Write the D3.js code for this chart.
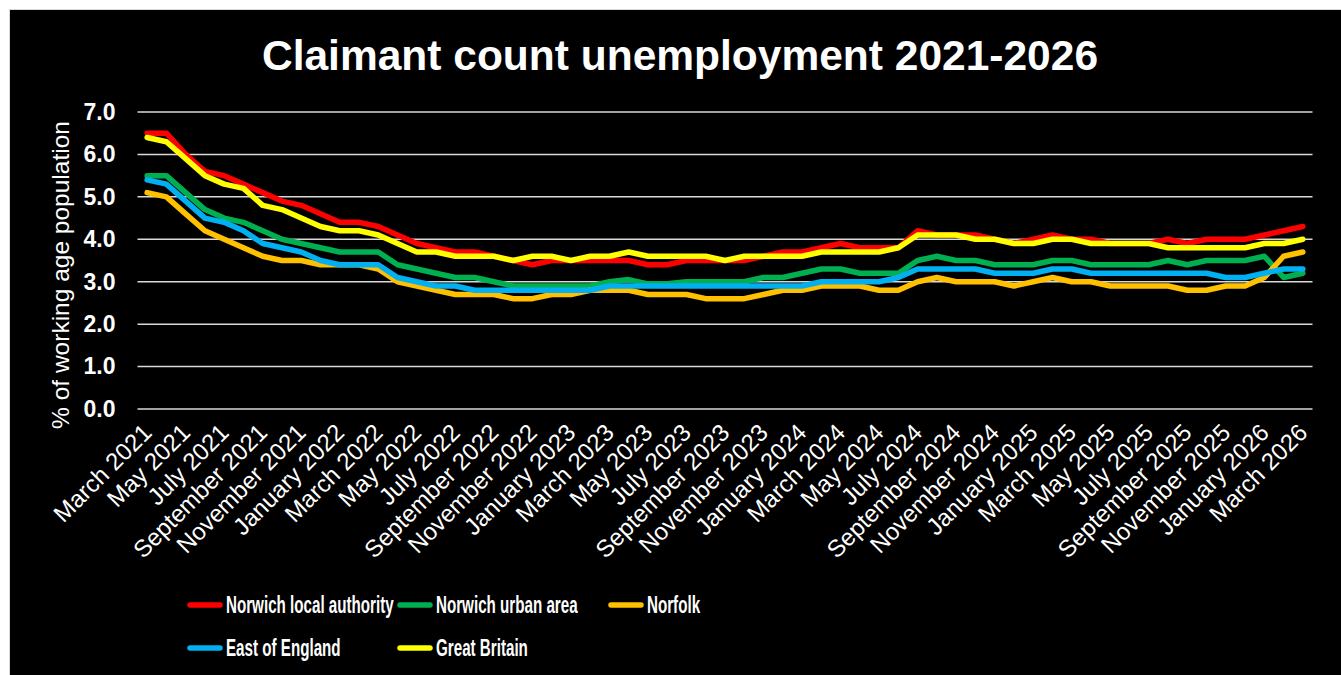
<!DOCTYPE html>
<html>
<head>
<meta charset="utf-8">
<script src="https://cdn.jsdelivr.net/npm/d3@7"></script>
<style>
  html, body { margin: 0; padding: 0; background: #fff; }
  svg { display: block; font-family: 'Liberation Sans', Arial, sans-serif; }
  .grid line { stroke: #d9d9d9; stroke-width: 1.5; }
  .y.axis text { fill: #fff; font-size: 23px; font-weight: bold; }
  .x.axis text { fill: #fff; font-size: 24px; }
  .line { fill: none; stroke-width: 5.5; stroke-linejoin: round; stroke-linecap: round; }
</style>
</head>
<body>
<div id="chart"></div>
<script>
const months = [
  'March 2021', 'April 2021', 'May 2021', 'June 2021', 'July 2021', 'August 2021',
  'September 2021', 'October 2021', 'November 2021', 'December 2021',
  'January 2022', 'February 2022', 'March 2022', 'April 2022', 'May 2022', 'June 2022',
  'July 2022', 'August 2022', 'September 2022', 'October 2022', 'November 2022', 'December 2022',
  'January 2023', 'February 2023', 'March 2023', 'April 2023', 'May 2023', 'June 2023',
  'July 2023', 'August 2023', 'September 2023', 'October 2023', 'November 2023', 'December 2023',
  'January 2024', 'February 2024', 'March 2024', 'April 2024', 'May 2024', 'June 2024',
  'July 2024', 'August 2024', 'September 2024', 'October 2024', 'November 2024', 'December 2024',
  'January 2025', 'February 2025', 'March 2025', 'April 2025', 'May 2025', 'June 2025',
  'July 2025', 'August 2025', 'September 2025', 'October 2025', 'November 2025', 'December 2025',
  'January 2026', 'February 2026', 'March 2026'
];

const norwichLA = [
  6.5, 6.5, 6.0, 5.6, 5.5, 5.3, 5.1, 4.9, 4.8, 4.6,
  4.4, 4.4, 4.3, 4.1, 3.9, 3.8, 3.7, 3.7, 3.6, 3.5,
  3.4, 3.5, 3.5, 3.5, 3.5, 3.5, 3.4, 3.4, 3.5, 3.5,
  3.5, 3.5, 3.6, 3.7, 3.7, 3.8, 3.9, 3.8, 3.8, 3.8,
  4.2, 4.1, 4.1, 4.1, 4.0, 3.9, 4.0, 4.1, 4.0, 4.0,
  3.9, 3.9, 3.9, 4.0, 3.9, 4.0, 4.0, 4.0, 4.1, 4.2,
  4.3
];
const norwichUrban = [
  5.5, 5.5, 5.1, 4.7, 4.5, 4.4, 4.2, 4.0, 3.9, 3.8,
  3.7, 3.7, 3.7, 3.4, 3.3, 3.2, 3.1, 3.1, 3.0, 2.9,
  2.9, 2.9, 2.9, 2.9, 3.0, 3.05, 2.95, 2.95, 3.0, 3.0,
  3.0, 3.0, 3.1, 3.1, 3.2, 3.3, 3.3, 3.2, 3.2, 3.2,
  3.5, 3.6, 3.5, 3.5, 3.4, 3.4, 3.4, 3.5, 3.5, 3.4,
  3.4, 3.4, 3.4, 3.5, 3.4, 3.5, 3.5, 3.5, 3.6, 3.1,
  3.2
];
const norfolk = [
  5.1, 5.0, 4.6, 4.2, 4.0, 3.8, 3.6, 3.5, 3.5, 3.4,
  3.4, 3.4, 3.3, 3.0, 2.9, 2.8, 2.7, 2.7, 2.7, 2.6,
  2.6, 2.7, 2.7, 2.8, 2.8, 2.8, 2.7, 2.7, 2.7, 2.6,
  2.6, 2.6, 2.7, 2.8, 2.8, 2.9, 2.9, 2.9, 2.8, 2.8,
  3.0, 3.1, 3.0, 3.0, 3.0, 2.9, 3.0, 3.1, 3.0, 3.0,
  2.9, 2.9, 2.9, 2.9, 2.8, 2.8, 2.9, 2.9, 3.1, 3.6,
  3.7
];
const eastOfEngland = [
  5.4, 5.3, 4.9, 4.5, 4.4, 4.2, 3.9, 3.8, 3.7, 3.5,
  3.4, 3.4, 3.4, 3.1, 3.0, 2.9, 2.9, 2.8, 2.8, 2.8,
  2.8, 2.8, 2.8, 2.8, 2.9, 2.9, 2.9, 2.9, 2.9, 2.9,
  2.9, 2.9, 2.9, 2.9, 2.9, 3.0, 3.0, 3.0, 3.0, 3.1,
  3.3, 3.3, 3.3, 3.3, 3.2, 3.2, 3.2, 3.3, 3.3, 3.2,
  3.2, 3.2, 3.2, 3.2, 3.2, 3.2, 3.1, 3.1, 3.2, 3.3,
  3.3
];
const greatBritain = [
  6.4, 6.3, 5.9, 5.5, 5.3, 5.2, 4.8, 4.7, 4.5, 4.3,
  4.2, 4.2, 4.1, 3.9, 3.7, 3.7, 3.6, 3.6, 3.6, 3.5,
  3.6, 3.6, 3.5, 3.6, 3.6, 3.7, 3.6, 3.6, 3.6, 3.6,
  3.5, 3.6, 3.6, 3.6, 3.6, 3.7, 3.7, 3.7, 3.7, 3.8,
  4.1, 4.1, 4.1, 4.0, 4.0, 3.9, 3.9, 4.0, 4.0, 3.9,
  3.9, 3.9, 3.9, 3.8, 3.8, 3.8, 3.8, 3.8, 3.9, 3.9,
  4.0
];

const seriesNames = ['Norwich local authority', 'Norwich urban area', 'Norfolk', 'East of England', 'Great Britain'];
const seriesColors = ['#ff0000', '#00b050', '#ffc000', '#00b0f0', '#ffff00'];
const yTicks = [0, 1, 2, 3, 4, 5, 6, 7];

const series = [norwichLA, norwichUrban, norfolk, eastOfEngland, greatBritain].map((values, i) => ({
  name: seriesNames[i],
  color: seriesColors[i],
  values
}));

const width = 1341;
const height = 675;
const plot = { left: 137.5, right: 1312.5, top: 112, bottom: 409 };

const svg = d3
  .select('#chart')
  .append('svg')
  .attr('width', width)
  .attr('height', height);

svg
  .append('rect')
  .attr('x', 9.5)
  .attr('y', 9.5)
  .attr('width', width)
  .attr('height', height)
  .attr('fill', '#000')
  .attr('stroke', '#d9d9d9')
  .attr('stroke-width', 1);

svg
  .append('text')
  .attr('x', 680)
  .attr('y', 70)
  .attr('text-anchor', 'middle')
  .attr('fill', '#fff')
  .style('font-size', '42.5px')
  .style('font-weight', 'bold')
  .text('Claimant count unemployment 2021-2026');

const x = d3
  .scaleBand()
  .domain(months)
  .range([plot.left, plot.right]);
const y = d3.scaleLinear().domain([0, 7]).range([plot.bottom, plot.top]);
const cx = d => x(d) + x.bandwidth() / 2;

// gridlines
svg
  .append('g')
  .attr('class', 'grid')
  .selectAll('line')
  .data(yTicks)
  .enter()
  .append('line')
  .attr('x1', plot.left)
  .attr('x2', plot.right)
  .attr('y1', d => y(d))
  .attr('y2', d => y(d));

const yAxis = d3
  .axisLeft(y)
  .tickValues(yTicks)
  .tickSize(0)
  .tickPadding(22)
  .tickFormat(d3.format('.1f'));

svg
  .append('g')
  .attr('class', 'y axis')
  .attr('transform', `translate(${plot.left}, 0)`)
  .call(yAxis)
  .call(g => g.select('.domain').remove());

const xAxis = d3
  .axisBottom(x)
  .tickValues(months.filter((_d, i) => i % 2 === 0))
  .tickSize(0)
  .tickPadding(0);

svg
  .append('g')
  .attr('class', 'x axis')
  .attr('transform', `translate(0, ${plot.bottom})`)
  .call(xAxis)
  .call(g => g.select('.domain').remove())
  .selectAll('text')
  .attr('text-anchor', 'end')
  .attr('dy', null)
  .attr('y', 0)
  .attr('transform', 'translate(6, 25) rotate(-45)');

svg
  .append('text')
  .attr('transform', 'translate(69, 275) rotate(-90)')
  .attr('text-anchor', 'middle')
  .attr('fill', '#fff')
  .style('font-size', '24.5px')
  .text('% of working age population');

const line = d3
  .line()
  .x((_d, i) => cx(months[i]))
  .y(d => y(d));

svg
  .selectAll('.line')
  .data(series)
  .enter()
  .append('path')
  .attr('class', 'line')
  .attr('stroke', d => d.color)
  .attr('d', d => line(d.values));

// legend, 3 columns x 2 rows
const legendCols = [190, 400, 611];
const legendRows = [605, 648];

const legend = svg
  .selectAll('.legend-item')
  .data(series)
  .enter()
  .append('g')
  .attr('class', 'legend-item')
  .attr('transform', (_d, i) => `translate(${legendCols[i % 3]}, ${legendRows[Math.floor(i / 3)]})`);

legend
  .append('line')
  .attr('x1', 0)
  .attr('x2', 30)
  .attr('stroke', d => d.color)
  .attr('stroke-width', 5.5)
  .attr('stroke-linecap', 'round');

legend
  .append('text')
  .attr('transform', 'translate(36, 0) scale(0.66, 1)')
  .attr('dy', '0.36em')
  .attr('fill', '#fff')
  .style('font-size', '23px')
  .style('font-weight', 'bold')
  .text(d => d.name);
</script>
</body>
</html>
